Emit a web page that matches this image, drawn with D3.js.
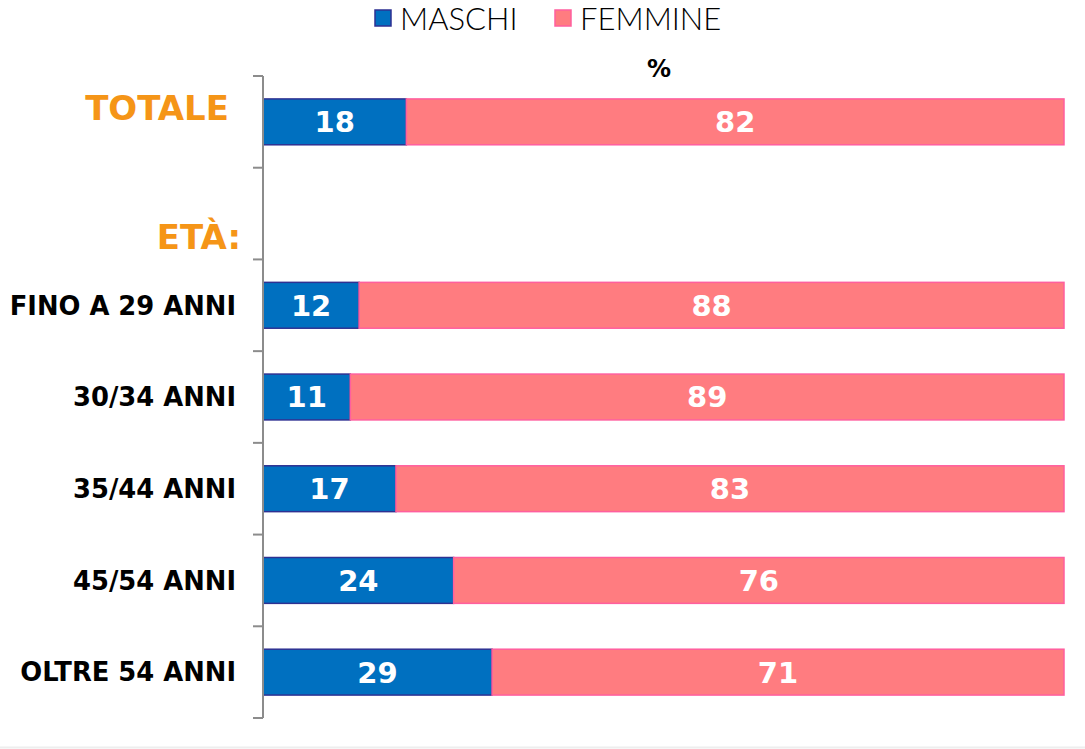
<!DOCTYPE html>
<html>
<head>
<meta charset="utf-8">
<script src="https://cdn.jsdelivr.net/npm/d3@7"></script>
<style>
  body { margin: 0; background: #fff; }
  svg { display: block; }
</style>
</head>
<body>
<svg id="chart" width="1085" height="749"></svg>
<script>
// Data (percentages; labels shown rounded)
const categories = ["TOTALE", "ETÀ:", "FINO A 29 ANNI", "30/34 ANNI", "35/44 ANNI", "45/54 ANNI", "OLTRE 54 ANNI"];
const maschi = [17.9, null, 12.0, 10.9, 16.6, 23.8, 28.6];
const femmine = [82.1, null, 88.0, 89.1, 83.4, 76.2, 71.4];
const seriesNames = ["MASCHI", "FEMMINE"];
const headerCategories = ["TOTALE", "ETÀ:"];

const svg = d3.select("#chart");

const x = d3.scaleLinear().domain([0, 100]).range([263, 1064]);
const y = d3.scaleBand().domain(categories).range([76, 718]).paddingInner(0.5).paddingOuter(0.25);
const fmt = d3.format(".0f");

const colors = { fill: ["#0070C0", "#FF7C80"], stroke: ["#2E3192", "#FF5F9E"] };

// bottom faint border
svg.append("line")
  .attr("x1", 0).attr("x2", 1085).attr("y1", 747.5).attr("y2", 747.5)
  .attr("stroke", "#eeeeee").attr("stroke-width", 2);

// Bars
const rows = categories.map((c, i) => ({ cat: c, m: maschi[i], f: femmine[i] }))
  .filter(d => d.m != null);

const g = svg.append("g");
rows.forEach(d => {
  const segs = [
    { x0: 0, x1: d.m, v: d.m, k: 0 },
    { x0: d.m, x1: d.m + d.f, v: d.f, k: 1 }
  ];
  segs.forEach(s => {
    g.append("rect")
      .attr("x", x(s.x0))
      .attr("y", y(d.cat))
      .attr("width", x(s.x1) - x(s.x0))
      .attr("height", y.bandwidth())
      .attr("fill", colors.fill[s.k])
      .attr("stroke", colors.stroke[s.k])
      .attr("stroke-width", 1.5);
    g.append("text")
      .attr("x", (x(s.x0) + x(s.x1)) / 2)
      .attr("y", y(d.cat) + y.bandwidth() / 2)
      .attr("dy", "0.36em")
      .attr("text-anchor", "middle")
      .attr("fill", "#fff")
      .style("font-family", "'DejaVu Sans', sans-serif")
      .style("font-weight", "bold")
      .style("font-size", "29px")
      .text(fmt(s.v));
  });
});

// Axis line and ticks at band boundaries
const step = y.step();
const y0 = y.range()[0];
const axis = svg.append("g").attr("stroke", "#8c8c8c").attr("stroke-width", 2);
axis.append("line").attr("x1", 263).attr("x2", 263).attr("y1", y0).attr("y2", y.range()[1]);
d3.range(categories.length + 1).forEach(i => {
  axis.append("line")
    .attr("x1", 253).attr("x2", 263)
    .attr("y1", y0 + i * step).attr("y2", y0 + i * step);
});

// Category labels
categories.forEach(c => {
  const isHeader = headerCategories.includes(c);
  const t = svg.append("text")
    .attr("text-anchor", "end")
    .style("font-family", "'DejaVu Sans', sans-serif")
    .style("font-weight", "bold")
    .text(c);
  if (isHeader) {
    const dy = c === "TOTALE" ? -14 : 23;
    const xr = c === "TOTALE" ? 229 : 241;
    t.attr("x", xr)
      .attr("y", y(c) + y.bandwidth() / 2 + dy)
      .attr("dy", "0.36em")
      .attr("fill", "#F59517")
      .style("font-size", "34px");
  } else {
    t.attr("x", 236)
      .attr("y", y(c) + y.bandwidth() / 2)
      .attr("dy", "0.36em")
      .attr("fill", "#000")
      .style("font-size", "25.8px");
  }
});

// "%" header
svg.append("text")
  .attr("x", 659).attr("y", 68)
  .attr("dy", "0.36em")
  .attr("text-anchor", "middle")
  .style("font-family", "'DejaVu Sans', sans-serif")
  .style("font-weight", "bold")
  .style("font-size", "24px")
  .text("%");

// Legend
const legendX = [375, 555];
seriesNames.forEach((n, i) => {
  svg.append("rect")
    .attr("x", legendX[i]).attr("y", 10)
    .attr("width", 16).attr("height", 16)
    .attr("fill", colors.fill[i])
    .attr("stroke", colors.stroke[i])
    .attr("stroke-width", 1.5);
  svg.append("text")
    .attr("x", legendX[i] + 25).attr("y", 19)
    .attr("dy", "0.36em")
    .style("font-family", "'Lato', sans-serif")
    .style("font-weight", "300")
    .style("font-size", "31px")
    .attr("fill", "#000")
    .text(n);
});
</script>
</body>
</html>
